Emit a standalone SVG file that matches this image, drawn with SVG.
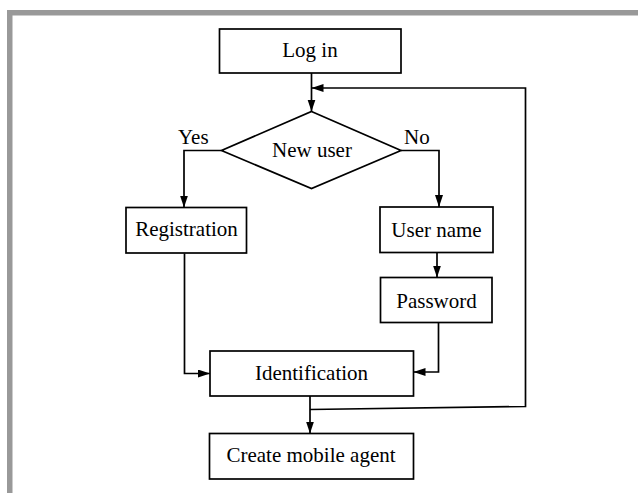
<svg xmlns="http://www.w3.org/2000/svg" width="638" height="493" viewBox="0 0 638 493">
<style>
.box{fill:#fff;stroke:#000;stroke-width:1.7}
.ln{fill:none;stroke:#000;stroke-width:1.7}
.t{font-family:"Liberation Serif","Times New Roman",serif;font-size:21px;fill:#000}
.c{text-anchor:middle}
</style>
<defs>
<marker id="ah" markerUnits="userSpaceOnUse" markerWidth="13" markerHeight="9" refX="12" refY="4" orient="auto">
<path d="M0,0 L12,4 L0,8 z" fill="#000"/>
</marker>
</defs>
<rect width="638" height="493" fill="#fff"/>
<rect x="7" y="10" width="631" height="5.5" fill="#999"/>
<rect x="7" y="10" width="5.5" height="483" fill="#999"/>
<g id="connectors">
<path class="ln" d="M311.5,73 V111.5" marker-end="url(#ah)"/>
<path class="ln" d="M221.5,150.5 H184 V207.5" marker-end="url(#ah)"/>
<path class="ln" d="M401,150.5 H439 V207" marker-end="url(#ah)"/>
<path class="ln" d="M437,252.5 V277.5" marker-end="url(#ah)"/>
<path class="ln" d="M438.5,322.5 V372 H413.5" marker-end="url(#ah)"/>
<path class="ln" d="M184.5,253.5 V373.5 H210" marker-end="url(#ah)"/>
<path class="ln" d="M310,396 V433.5" marker-end="url(#ah)"/>
<path class="ln" d="M310,409.5 L525.5,406.5 V88 H311.5" marker-end="url(#ah)"/>
</g>
<g id="login">
<rect class="box" x="219.5" y="29" width="181.5" height="44"/>
<text class="t c" x="310" y="57">Log in</text>
</g>
<g id="newuser">
<polygon class="box" points="311.5,111.5 401,150.5 311.5,188.5 221.5,150.5"/>
<text class="t c" x="312" y="157">New user</text>
</g>
<g id="labels">
<text class="t" x="178" y="144">Yes</text>
<text class="t" x="404" y="144">No</text>
</g>
<g id="registration">
<rect class="box" x="126" y="207.5" width="120.5" height="45.5"/>
<text class="t c" x="186.5" y="236">Registration</text>
</g>
<g id="username">
<rect class="box" x="380" y="207" width="113" height="45.5"/>
<text class="t c" x="436.5" y="237">User name</text>
</g>
<g id="password">
<rect class="box" x="380.5" y="277.5" width="111.5" height="45"/>
<text class="t c" x="436.5" y="308">Password</text>
</g>
<g id="identification">
<rect class="box" x="210" y="351" width="203.5" height="45"/>
<text class="t c" x="311.5" y="380">Identification</text>
</g>
<g id="create">
<rect class="box" x="209.5" y="433.5" width="204" height="45.5"/>
<text class="t c" x="311" y="462">Create mobile agent</text>
</g>
</svg>
